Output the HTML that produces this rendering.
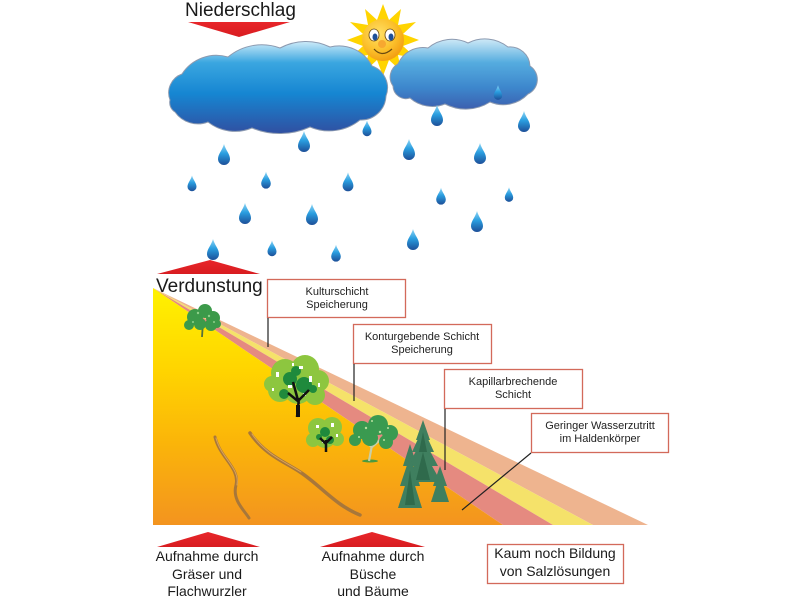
<!DOCTYPE html>
<html><head><meta charset="utf-8"><style>
html,body{margin:0;padding:0;background:#fff;}
svg{display:block;}
text{font-family:"Liberation Sans",Arial,sans-serif;}
</style></head><body>
<svg width="800" height="600" viewBox="0 0 800 600" xmlns="http://www.w3.org/2000/svg">
<defs>
  <linearGradient id="gL" x1="0" y1="42" x2="0" y2="136" gradientUnits="userSpaceOnUse">
    <stop offset="0" stop-color="#c9e9f8"/>
    <stop offset="0.22" stop-color="#3aa6e0"/>
    <stop offset="0.55" stop-color="#1686d2"/>
    <stop offset="1" stop-color="#324c9e"/>
  </linearGradient>
  <linearGradient id="gR" x1="0" y1="37" x2="0" y2="110" gradientUnits="userSpaceOnUse">
    <stop offset="0" stop-color="#d8eef9"/>
    <stop offset="0.35" stop-color="#55acdf"/>
    <stop offset="0.7" stop-color="#3d86cc"/>
    <stop offset="1" stop-color="#3c5eae"/>
  </linearGradient>
  <linearGradient id="gDrop" x1="0" y1="0" x2="0" y2="1">
    <stop offset="0" stop-color="#8fd6f5"/>
    <stop offset="0.45" stop-color="#2a9ee0"/>
    <stop offset="1" stop-color="#1d4f98"/>
  </linearGradient>
  <linearGradient id="gGround" x1="0" y1="288" x2="0" y2="525" gradientUnits="userSpaceOnUse">
    <stop offset="0" stop-color="#fff200"/>
    <stop offset="0.35" stop-color="#ffd400"/>
    <stop offset="0.65" stop-color="#fbb509"/>
    <stop offset="1" stop-color="#f3941f"/>
  </linearGradient>
  <radialGradient id="gSun" cx="0.4" cy="0.35" r="0.7">
    <stop offset="0" stop-color="#ffe066"/>
    <stop offset="0.6" stop-color="#fbbf2a"/>
    <stop offset="1" stop-color="#f29a10"/>
  </radialGradient>
  <linearGradient id="gArrow" x1="0" y1="0" x2="0" y2="1">
    <stop offset="0" stop-color="#e8262a"/>
    <stop offset="1" stop-color="#d81c20"/>
  </linearGradient>
  <path id="drop" d="M0,-14 C1.5,-8 6,-4 6,1 A6,6 0 1 1 -6,1 C-6,-4 -1.5,-8 0,-14 Z" fill="url(#gDrop)"/>
</defs>

<!-- Niederschlag -->
<text x="185" y="16" font-size="19" fill="#1a1a1a">Niederschlag</text>
<polygon points="188,22 290,22 239,37" fill="url(#gArrow)"/>

<!-- Sun -->
<g transform="translate(383,40)">
  <polygon fill="#ffd400" points="0,-36 6,-20 18,-31 15,-15 33,-18 20,-6 36,0 20,6 33,18 15,15 18,31 6,20 0,36 -6,20 -18,31 -15,15 -33,18 -20,6 -36,0 -20,-6 -33,-18 -15,-15 -18,-31 -6,-20"/>
  <circle r="21" fill="url(#gSun)"/>
  <ellipse cx="-9" cy="-5" rx="5" ry="6" fill="#fff" stroke="#6a4a10" stroke-width="0.8"/>
  <ellipse cx="7" cy="-5" rx="5" ry="6" fill="#fff" stroke="#6a4a10" stroke-width="0.8"/>
  <ellipse cx="-8" cy="-3" rx="2.5" ry="3.5" fill="#1d4f98"/>
  <ellipse cx="8" cy="-3" rx="2.5" ry="3.5" fill="#1d4f98"/>
  <circle cx="-1" cy="4" r="4" fill="#f7a830"/>
  <path d="M-9,9 Q-1,18 9,9" fill="none" stroke="#6a4a10" stroke-width="1.2"/>
</g>

<!-- Left cloud -->
<path fill="url(#gL)" stroke="#8c9ab0" stroke-width="1"
 d="M170,100 A20,20 0 0 1 182,74 A41,41 0 0 1 228,57 A53,53 0 0 1 280,48 A55,55 0 0 1 330,47 A37,37 0 0 1 372,66 A23,23 0 0 1 386,96 A25,25 0 0 1 360,120 A49,49 0 0 1 310,127 A73,73 0 0 1 252,128 A44,44 0 0 1 208,122 A28,28 0 0 1 175,112 A11,11 0 0 1 170,100 Z"/>

<!-- Right cloud -->
<path fill="url(#gR)" stroke="#8c9ab0" stroke-width="1"
 d="M393,86 A15,15 0 0 1 398,64 A27,27 0 0 1 428,48 A37,37 0 0 1 468,43 A37,37 0 0 1 508,47 A20,20 0 0 1 530,66 A16,16 0 0 1 528,94 A34,34 0 0 1 490,102 A45,45 0 0 1 445,104 A34,34 0 0 1 410,98 A13,13 0 0 1 393,86 Z"/>

<!-- Raindrops -->
<use href="#drop" transform="translate(498,95) scale(0.7)"/>
<use href="#drop" transform="translate(224,158)"/>
<use href="#drop" transform="translate(304,145)"/>
<use href="#drop" transform="translate(367,131) scale(0.75)"/>
<use href="#drop" transform="translate(437,119)"/>
<use href="#drop" transform="translate(524,125)"/>
<use href="#drop" transform="translate(409,153)"/>
<use href="#drop" transform="translate(480,157)"/>
<use href="#drop" transform="translate(192,186) scale(0.75)"/>
<use href="#drop" transform="translate(266,183) scale(0.8)"/>
<use href="#drop" transform="translate(348,185) scale(0.9)"/>
<use href="#drop" transform="translate(441,199) scale(0.8)"/>
<use href="#drop" transform="translate(509,197) scale(0.7)"/>
<use href="#drop" transform="translate(245,217)"/>
<use href="#drop" transform="translate(312,218)"/>
<use href="#drop" transform="translate(477,225)"/>
<use href="#drop" transform="translate(413,243)"/>
<use href="#drop" transform="translate(213,253)"/>
<use href="#drop" transform="translate(272,251) scale(0.75)"/>
<use href="#drop" transform="translate(336,256) scale(0.8)"/>

<!-- Verdunstung arrow -->
<polygon points="157,274 260,274 210,260" fill="url(#gArrow)"/>

<!-- Ground -->
<polygon points="153,288 648,525 593,525" fill="#eeb48f"/>
<polygon points="153,288 593,525 553,525" fill="#f5e26a"/>
<polygon points="153,288 553,525 503,525" fill="#e58a80"/>
<polygon points="153,288 503,525 153,525" fill="url(#gGround)"/>

<text x="156" y="292" font-size="19" fill="#1a1a1a">Verdunstung</text>

<!-- Roots -->
<g fill="none" stroke-linecap="round">
  <path d="M215,437 C220,458 240,468 236,485 C232,500 244,510 249,518" stroke="#a8773a" stroke-width="3"/>
  <path d="M250,433 C265,455 285,462 300,472 C320,485 335,505 360,515" stroke="#a8773a" stroke-width="3.5"/>
  <path d="M216,438 C221,458 240,468 237,485" stroke="#d9a35a" stroke-width="1"/>
  <path d="M252,434 C266,455 286,462 301,472" stroke="#d9a35a" stroke-width="1"/>
</g>

<!-- Small tree -->
<path d="M202,337 L203,322 M203,326 L196,320 M203,325 L210,319" stroke="#55703c" stroke-width="1.8" fill="none"/>
<g fill="#3c9a4a">
  <circle cx="195" cy="317" r="8"/><circle cx="205" cy="311" r="7"/><circle cx="213" cy="318" r="7"/>
  <circle cx="200" cy="324" r="6"/><circle cx="211" cy="325" r="6"/><circle cx="189" cy="325" r="5"/><circle cx="217" cy="324" r="4"/>
</g>
<g fill="#8fd08a"><circle cx="198" cy="313" r="1.2"/><circle cx="209" cy="316" r="1.2"/><circle cx="193" cy="322" r="1"/><circle cx="214" cy="322" r="1"/></g>

<!-- Big tree -->
<g fill="#8dc63f">
  <circle cx="285" cy="373" r="14"/><circle cx="305" cy="369" r="14"/><circle cx="318" cy="381" r="11"/>
  <circle cx="280" cy="390" r="12"/><circle cx="298" cy="390" r="14"/><circle cx="315" cy="395" r="10"/><circle cx="272" cy="384" r="8"/>
</g>
<g fill="#1f8a3c">
  <circle cx="290" cy="379" r="7"/><circle cx="304" cy="385" r="8"/><circle cx="296" cy="371" r="5"/><circle cx="284" cy="394" r="5"/><circle cx="313" cy="389" r="4"/>
</g>
<g fill="#fff">
  <rect x="276" y="372" width="3" height="5"/><rect x="299" y="366" width="4" height="3"/><rect x="309" y="376" width="3" height="6"/>
  <rect x="288" y="385" width="4" height="3"/><rect x="318" y="383" width="2" height="4"/><rect x="272" y="388" width="2" height="3"/>
  <rect x="303" y="393" width="3" height="3"/><rect x="292" y="363" width="2" height="3"/>
</g>
<path d="M297,417 L299,398 M299,402 L288,393 M299,400 L309,390 M299,404 L293,382" stroke="#111" stroke-width="2.5" fill="none"/>
<rect x="296" y="405" width="4" height="12" fill="#111"/>

<!-- Small white tree -->
<g fill="#8dc63f">
  <circle cx="318" cy="428" r="10"/><circle cx="332" cy="427" r="10"/><circle cx="325" cy="437" r="11"/>
  <circle cx="313" cy="440" r="7"/><circle cx="337" cy="439" r="7"/>
</g>
<g fill="#1f8a3c"><circle cx="325" cy="432" r="5"/><circle cx="330" cy="440" r="4"/><circle cx="319" cy="437" r="3"/></g>
<g fill="#fff"><rect x="316" y="425" width="3" height="3"/><rect x="331" y="423" width="3" height="4"/><rect x="322" y="441" width="3" height="2"/><rect x="336" y="434" width="2" height="3"/></g>
<path d="M326,452 L326,440 M326,444 L320,438 M326,443 L332,437" stroke="#111" stroke-width="2.5" fill="none"/>

<!-- Green tree -->
<ellipse cx="370" cy="461" rx="8" ry="1.5" fill="#4a9a40"/>
<path d="M369,461 L372,445 M372,448 L366,440 M372,447 L380,440" stroke="#c8cfa8" stroke-width="2.2" fill="none"/>
<g fill="#3a9a50">
  <circle cx="362" cy="430" r="9"/><circle cx="378" cy="425" r="10"/><circle cx="390" cy="433" r="8"/>
  <circle cx="370" cy="438" r="8"/><circle cx="386" cy="442" r="7"/><circle cx="355" cy="440" r="6"/>
</g>
<g fill="#b8e0a0"><circle cx="366" cy="428" r="1.2"/><circle cx="380" cy="432" r="1.2"/><circle cx="388" cy="428" r="1"/><circle cx="372" cy="421" r="1"/><circle cx="359" cy="437" r="1"/><circle cx="384" cy="440" r="1"/></g>

<!-- Fir trees -->
<g fill="#3f7f5f">
  <polygon points="423,420 430,440 416,440"/>
  <polygon points="423,428 434,452 412,452"/>
  <polygon points="423,438 438,466 408,466"/>
  <polygon points="423,450 441,482 405,482"/>
  <polygon points="440,466 447,486 433,486"/>
  <polygon points="440,474 449,502 431,502"/>
  <polygon points="410,444 417,466 403,466"/>
  <polygon points="410,456 420,486 400,486"/>
  <polygon points="410,470 422,508 398,508"/>
</g>
<g fill="#2f6a4c">
  <polygon points="423,432 427,452 419,452"/>
  <polygon points="423,452 430,480 416,480"/>
  <polygon points="410,470 415,505 405,505"/>
</g>

<!-- Callout boxes -->
<g fill="#fff" stroke="#d36a5a" stroke-width="1.3">
  <rect x="267.5" y="279.5" width="138" height="38"/>
  <rect x="353.5" y="324.5" width="138" height="39"/>
  <rect x="444.5" y="369.5" width="138" height="39"/>
  <rect x="531.5" y="413.5" width="137" height="39"/>
  <rect x="487.5" y="544.5" width="136" height="39"/>
</g>
<g stroke="#222" stroke-width="1.2" fill="none">
  <line x1="268" y1="318" x2="268" y2="347"/>
  <line x1="354" y1="364" x2="354" y2="401"/>
  <line x1="445" y1="409" x2="445" y2="470"/>
  <line x1="531" y1="453" x2="462" y2="510"/>
</g>
<g font-size="11" fill="#222" text-anchor="middle">
  <text x="337" y="295">Kulturschicht</text>
  <text x="337" y="308">Speicherung</text>
  <text x="422" y="340">Konturgebende Schicht</text>
  <text x="422" y="353">Speicherung</text>
  <text x="513" y="385">Kapillarbrechende</text>
  <text x="513" y="398">Schicht</text>
  <text x="600" y="429">Geringer Wasserzutritt</text>
  <text x="600" y="442">im Haldenkörper</text>
</g>

<!-- Bottom arrows -->
<polygon points="157,547 260,547 208,532" fill="url(#gArrow)"/>
<polygon points="320,547 425,547 372,532" fill="url(#gArrow)"/>

<g font-size="14" fill="#1a1a1a" text-anchor="middle">
  <text x="207" y="561">Aufnahme durch</text>
  <text x="207" y="579">Gräser und</text>
  <text x="207" y="596">Flachwurzler</text>
  <text x="373" y="561">Aufnahme durch</text>
  <text x="373" y="579">Büsche</text>
  <text x="373" y="596">und Bäume</text>
  <text x="555" y="558">Kaum noch Bildung</text>
  <text x="555" y="576">von Salzlösungen</text>
</g>
</svg>
</body></html>
